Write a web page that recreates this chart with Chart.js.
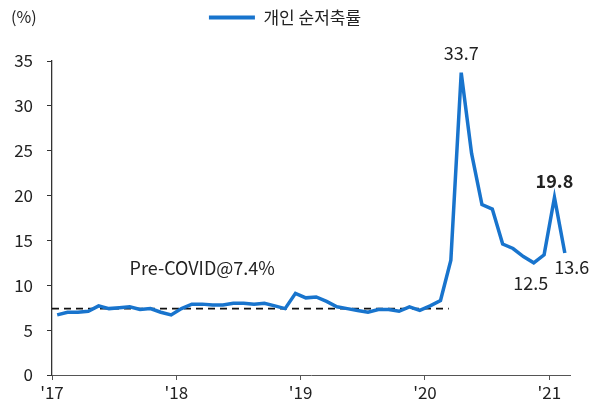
<!DOCTYPE html>
<html>
<head>
<meta charset="utf-8">
<script src="https://cdn.jsdelivr.net/npm/chart.js@4/dist/chart.umd.min.js"></script>
<style>
    html, body { margin: 0; padding: 0; background: #fff; }
    #wrap { width: 598px; height: 409px; }
</style>
</head>
<body>
<div id="wrap"><canvas id="chart"></canvas></div>
<script>
(function () {
    'use strict';

    // monthly personal saving rate, Jan 2017 .. Feb 2021 (%)
    var rate2017 = [6.7, 7.0, 7.0, 7.1, 7.7, 7.4, 7.5, 7.6, 7.3, 7.4, 7.0, 6.7];
    var rate2018 = [7.4, 7.9, 7.9, 7.8, 7.8, 8.0, 8.0, 7.9, 8.0, 7.7, 7.4, 9.1];
    var rate2019 = [8.6, 8.7, 8.2, 7.6, 7.4, 7.2, 7.0, 7.3, 7.3, 7.1, 7.6, 7.2];
    var rate2020 = [7.7, 8.3, 12.8, 33.7, 24.7, 19.0, 18.5, 14.6, 14.1, 13.2, 12.5, 13.4];
    var rate2021 = [19.8, 13.6];

    var yearLabels = ["'17", "'18", "'19", "'20", "'21"];
    var yTicks = [0, 5, 10, 15, 20, 25, 30, 35];

    var seriesName = '개인 순저축률';
    var preCovidAvg = 7.4;
    var preCovidSpan = [0, 38.3]; // months covered by the dashed average
    var preCovidText = 'Pre-COVID@7.4%';

    // callouts: month index, text, bold, offset from point
    var callouts = [
        {i: 39, text: '33.7', bold: false, dx: 0, dy: -20},
        {i: 48, text: '19.8', bold: true, dx: 0, dy: -16},
        {i: 46, text: '12.5', bold: false, dx: -3, dy: 20},
        {i: 49, text: '13.6', bold: false, dx: 7, dy: 14}
    ];

    var rates = [].concat(rate2017, rate2018, rate2019, rate2020, rate2021);
    var points = rates.map(function (v, k) {
        return {x: k + 0.5, y: v};
    });
    var avgLine = preCovidSpan.map(function (x) {
        return {x: x, y: preCovidAvg};
    });

    var blue = '#1874cd';
    var ink = '#222222';
    var font = "'Noto Sans CJK KR', 'Noto Sans', sans-serif";

    // extra room between legend and plot
    var legendGap = {
        id: 'legendGap',
        beforeInit: function (chart) {
            var fit = chart.legend.fit;
            chart.legend.fit = function () {
                fit.call(this);
                this.height += 25;
            };
        }
    };

    var textPlugin = {
        id: 'texts',
        afterDatasetsDraw: function (chart) {
            var ctx = chart.ctx;
            var xs = chart.scales.x;
            var ys = chart.scales.y;

            ctx.save();
            ctx.fillStyle = ink;
            ctx.textAlign = 'center';
            ctx.textBaseline = 'middle';

            callouts.forEach(function (c) {
                ctx.font = (c.bold ? 'bold ' : '') + '18px ' + font;
                ctx.fillText(c.text, xs.getPixelForValue(c.i + 0.5) + c.dx, ys.getPixelForValue(rates[c.i]) + c.dy);
            });

            ctx.font = '18px ' + font;
            ctx.fillText(preCovidText, xs.getPixelForValue(14.5), ys.getPixelForValue(preCovidAvg) - 40);

            ctx.textAlign = 'left';
            ctx.font = '16px ' + font;
            ctx.fillText('(%)', 11, 17);
            ctx.restore();
        }
    };

    new Chart(document.getElementById('chart'), {
        type: 'line',
        data: {
            datasets: [
                {
                    label: seriesName,
                    data: points,
                    borderColor: blue,
                    backgroundColor: blue,
                    borderWidth: 3.5,
                    pointRadius: 0,
                    tension: 0
                },
                {
                    label: 'avg',
                    data: avgLine,
                    borderColor: '#111',
                    borderWidth: 1.6,
                    borderDash: [7, 5],
                    pointRadius: 0
                }
            ]
        },
        options: {
            responsive: true,
            maintainAspectRatio: false,
            animation: false,
            layout: {
                padding: {left: 0, right: 28, top: 0, bottom: 0}
            },
            plugins: {
                tooltip: {enabled: false},
                legend: {
                    display: true,
                    position: 'top',
                    labels: {
                        filter: function (item) {
                            return item.datasetIndex === 0;
                        },
                        generateLabels: function (chart) {
                            var items = Chart.defaults.plugins.legend.labels.generateLabels(chart);
                            items.forEach(function (item) {
                                item.lineWidth = 0;
                            });
                            return items;
                        },
                        boxWidth: 46,
                        boxHeight: 4,
                        padding: 9,
                        color: ink,
                        font: {family: font, size: 17}
                    }
                }
            },
            scales: {
                x: {
                    type: 'linear',
                    min: 0,
                    max: 50,
                    afterBuildTicks: function (scale) {
                        scale.ticks = yearLabels.map(function (t, k) {
                            return {value: k * 12};
                        });
                    },
                    afterFit: function (scale) {
                        scale.height = 34;
                    },
                    ticks: {
                        autoSkip: false,
                        maxRotation: 0,
                        padding: 2,
                        color: ink,
                        font: {family: font, size: 17},
                        callback: function (value) {
                            return yearLabels[value / 12];
                        }
                    },
                    grid: {drawOnChartArea: false, tickLength: 5, color: '#555'},
                    border: {color: '#555', width: 1}
                },
                y: {
                    min: 0,
                    max: 35,
                    afterBuildTicks: function (scale) {
                        scale.ticks = yTicks.map(function (v) {
                            return {value: v};
                        });
                    },
                    afterFit: function (scale) {
                        scale.width = 52;
                    },
                    ticks: {
                        padding: 14,
                        color: ink,
                        font: {family: font, size: 17}
                    },
                    grid: {drawOnChartArea: false, tickLength: 5, color: '#333'},
                    border: {color: '#333', width: 1.3}
                }
            }
        },
        plugins: [legendGap, textPlugin]
    });
})();
</script>
</body>
</html>
